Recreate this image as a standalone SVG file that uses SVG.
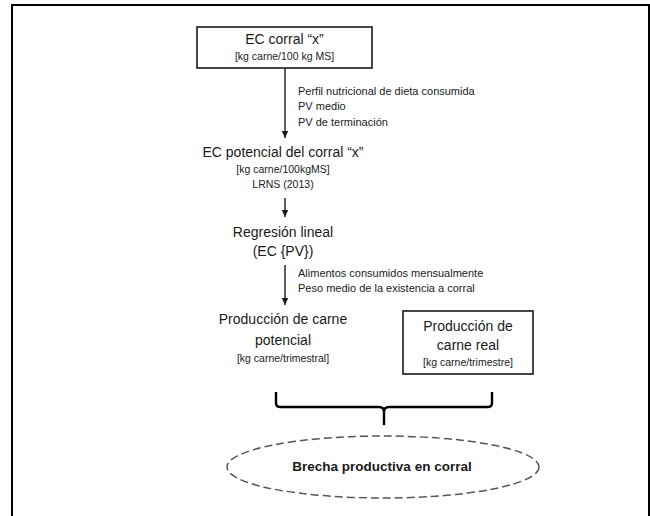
<svg xmlns="http://www.w3.org/2000/svg" width="650" height="516" viewBox="0 0 650 516">
<style>
  text { font-family: "Liberation Sans", Arial, sans-serif; fill: #1a1a1a; text-anchor: middle; }
  .big { font-size: 14px; }
  .sm { font-size: 10.5px; }
  .note { font-size: 11px; text-anchor: start; }
  .bold { font-size: 13.5px; font-weight: bold; }
  .box { fill: #ffffff; stroke: #1a1a1a; stroke-width: 1.6; }
  .conn { stroke: #1a1a1a; stroke-width: 1.4; fill: none; }
</style>
<defs>
  <marker id="arr" markerWidth="8" markerHeight="8" refX="7" refY="4" orient="auto" markerUnits="userSpaceOnUse">
    <path d="M0,0.8 L7,4 L0,7.2 Z" fill="#1a1a1a"/>
  </marker>
</defs>
<rect x="0" y="0" width="650" height="516" fill="#ffffff"/>
<g id="frame">
  <path d="M12,516 V5 H649 V516" fill="none" stroke="#000" stroke-width="2"/>
</g>
<g id="connectors">
  <line class="conn" x1="285" y1="68" x2="285" y2="138" marker-end="url(#arr)"/>
  <line class="conn" x1="285" y1="198" x2="285" y2="217" marker-end="url(#arr)"/>
  <line class="conn" x1="285" y1="265" x2="285" y2="305" marker-end="url(#arr)"/>
  <path d="M276,392 V403 Q276,407 280,407 H379 Q384,407 384,412 V425 M384,412 Q384,407 389,407 H488 Q492,407 492,403 V392" fill="none" stroke="#000" stroke-width="2.4"/>
</g>
<g id="labels">
  <text class="note" x="298" y="95">Perfil nutricional de dieta consumida</text>
  <text class="note" x="298" y="110">PV medio</text>
  <text class="note" x="298" y="126">PV de terminación</text>
  <text class="note" x="298" y="277">Alimentos consumidos mensualmente</text>
  <text class="note" x="298" y="292">Peso medio de la existencia a corral</text>
</g>
<g id="ec-corral">
  <rect class="box" x="197" y="27" width="175" height="41"/>
  <text class="big" x="284.5" y="44">EC corral “x”</text>
  <text class="sm" x="284.5" y="60">[kg carne/100 kg MS]</text>
</g>
<g id="ec-potencial">
  <text class="big" x="283" y="157">EC potencial del corral “x”</text>
  <text class="sm" x="283" y="173">[kg carne/100kgMS]</text>
  <text class="sm" x="283" y="188">LRNS (2013)</text>
</g>
<g id="regresion">
  <text class="big" x="283" y="237">Regresión lineal</text>
  <text class="big" x="283" y="256">(EC {PV})</text>
</g>
<g id="prod-potencial">
  <text class="big" x="283" y="324">Producción de carne</text>
  <text class="big" x="283" y="345">potencial</text>
  <text class="sm" x="283" y="362">[kg carne/trimestral]</text>
</g>
<g id="prod-real">
  <rect class="box" x="403" y="311" width="130" height="63"/>
  <text class="big" x="468" y="331">Producción de</text>
  <text class="big" x="468" y="350">carne real</text>
  <text class="sm" x="468" y="366">[kg carne/trimestre]</text>
</g>
<g id="brecha">
  <ellipse cx="383" cy="467" rx="156" ry="31" fill="none" stroke="#555" stroke-width="1.5" stroke-dasharray="8,4"/>
  <text class="bold" x="382" y="471">Brecha productiva  en corral</text>
</g>
</svg>
